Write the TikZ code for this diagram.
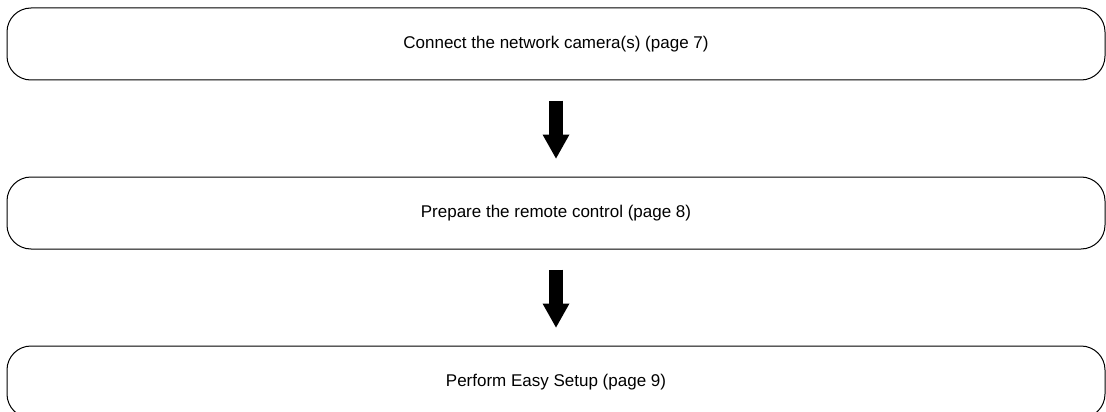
\documentclass[tikz,border=0pt]{standalone}
\usepackage{fontspec}
\setmainfont{Liberation Sans}
\usetikzlibrary{arrows.meta,positioning}

\begin{document}
\begin{tikzpicture}[x=1pt,y=-1pt,node distance=96pt,
  stepbox/.style={draw,line width=1pt,rounded corners=24pt,minimum width=1098pt,minimum height=72pt,font=\fontsize{17}{20}\selectfont},
  flowarrow/.style={-{Triangle[length=24pt,width=27pt,line width=0pt]},line width=14pt,shorten <=20pt,shorten >=18pt}]
\useasboundingbox (0,0) rectangle (1106,412);
\clip (0,0) rectangle (1106,412);
\node[stepbox] (connect) at (556,44) {Connect the network camera(s) (page 7)};
\node[stepbox,below=of connect] (remote) {Prepare the remote control (page 8)};
\node[stepbox,below=of remote] (setup) {Perform Easy Setup (page 9)};
\draw[flowarrow] (connect) -- (remote);
\draw[flowarrow] (remote) -- (setup);
\end{tikzpicture}
\end{document}
